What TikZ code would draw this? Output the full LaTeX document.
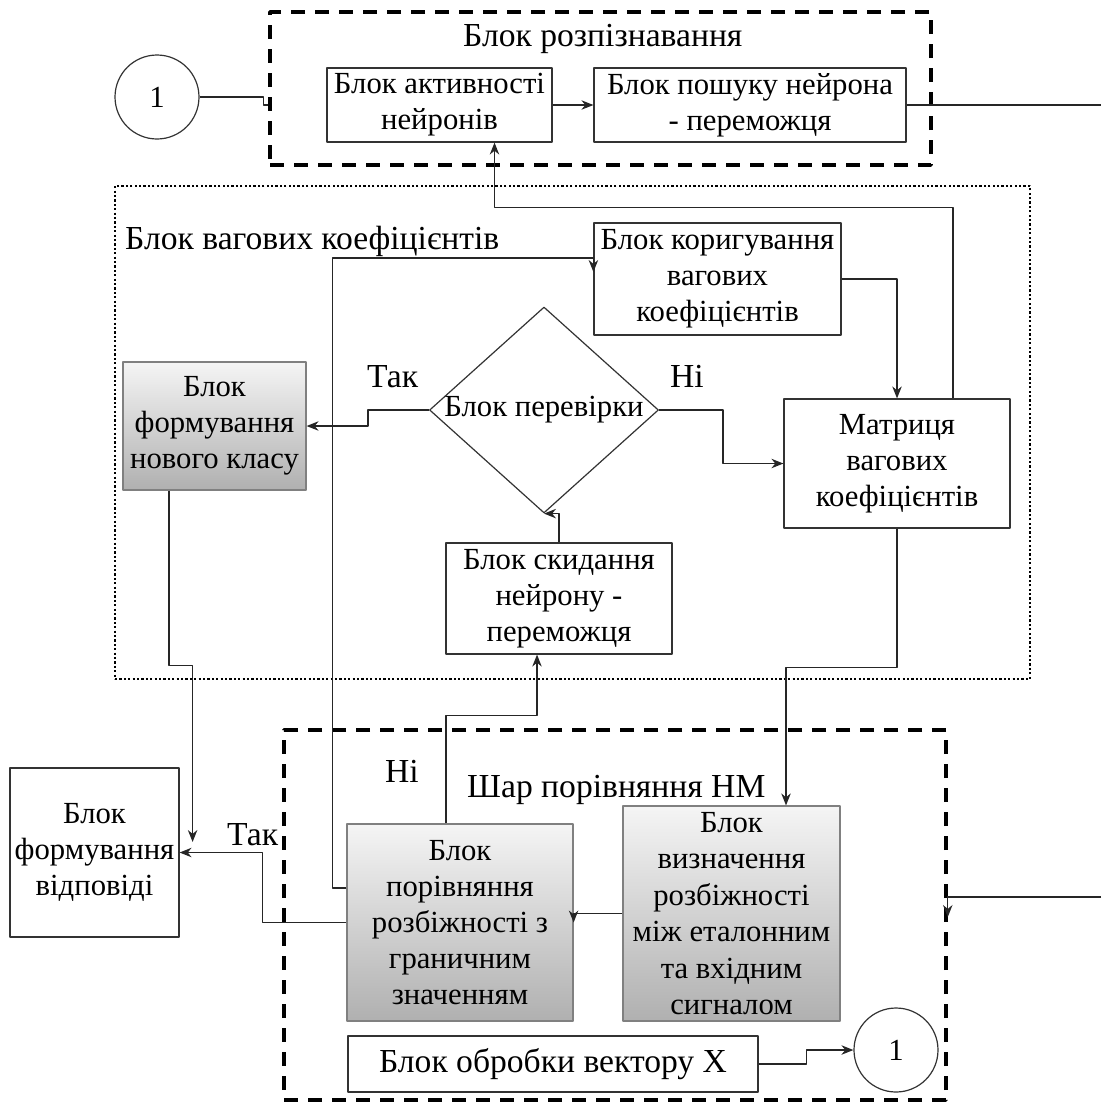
\documentclass[tikz,border=0pt]{standalone}
\usepackage{fontspec}
\setmainfont{Liberation Serif}
\usetikzlibrary{arrows.meta,shapes.geometric}
\begin{document}
\begin{tikzpicture}[x=1pt, y=-1pt, font=\fontsize{30.7}{36}\selectfont, line join=round, >={Stealth[length=12pt,width=9.5pt]},
	box/.style={draw=black!80, line width=1.2pt, align=center, inner sep=0pt, fill=white},
	gbox/.style={box, draw=gray, top color=gray!8, bottom color=gray!62},
	grpdash/.style={draw, line width=3.5pt, dash pattern=on 14pt off 10pt, inner sep=0pt},
	grpdot/.style={draw, line width=2.2pt, dash pattern=on 2.2pt off 2.2pt, inner sep=0pt},
	ttl/.style={anchor=base west, inner sep=0pt, font=\fontsize{33.6}{40}\selectfont},
	conn/.style={line width=1.25pt, draw=black!85}]
		\useasboundingbox (0,0) rectangle (1101,1109);
		% groups
		\node[grpdash, minimum width=661, minimum height=153] (rec) at (600.5,88.5) {};
		\node[grpdot, minimum width=915, minimum height=493] (wgt) at (572.5,432.5) {};
		\node[grpdash, minimum width=662, minimum height=370] (cmpl) at (615,915) {};
		\node[ttl] (rectl) at (463,46) {Блок розпізнавання};
		\node[ttl] (wgttl) at (125,249) {Блок вагових коефіцієнтів};
		\node[ttl] (cmpltl) at (467,797) {Шар порівняння НМ};
		
		% blocks
		\node[box, circle, minimum size=84] (c1) at (157,97) {1};
		\node[box, minimum width=225, minimum height=74] (act) at (439.5,105) {Блок активності\\нейронів};
		\node[box, minimum width=312, minimum height=74] (search) at (750,105) {Блок пошуку нейрона\\- переможця};
		\node[box, minimum width=247, minimum height=112] (corr) at (717.5,279) {Блок коригування\\вагових\\коефіцієнтів};
		\node[box, diamond, minimum width=229, minimum height=206] (chk) at (544,410) {};
		\node[inner sep=0pt] (chktxt) at (chk) {Блок перевірки};
		\node[box, minimum width=226, minimum height=129] (mat) at (897,463.5) {Матриця\\вагових\\коефіцієнтів};
		\node[gbox, minimum width=183, minimum height=128] (newcls) at (214.5,426) {Блок\\формування\\нового класу};
		\node[box, minimum width=226, minimum height=111] (reset) at (559,598.5) {Блок скидання\\нейрону -\\переможця};
		\node[box, minimum width=169, minimum height=169] (resp) at (94.5,852.5) {Блок\\формування\\відповіді};
		\node[gbox, minimum width=226, minimum height=197] (comp) at (460,922.5) {Блок\\порівняння\\розбіжності з\\граничним\\значенням};
		\node[gbox, minimum width=217, minimum height=215, font=\fontsize{30.7}{36.5}\selectfont] (det) at (731.5,913.5) {Блок\\визначення\\розбіжності\\між еталонним\\та вхідним\\сигналом};
		\node[box, minimum width=410, minimum height=56, font=\fontsize{33.6}{40}\selectfont] (xbox) at (553,1064) {Блок обробки вектору X};
		\node[box, circle, minimum size=84] (c2) at (896,1050) {1};
		
		% labels
		\node[ttl] (yes1) at (367,387) {Так};
		\node[ttl] (no1) at (670,387) {Ні};
		\node[ttl] (no2) at (385,782) {Ні};
		\node[ttl] (yes2) at (227,845) {Так};
		
		% connectors
		\coordinate (outR1) at (1101,105);
		\coordinate (outR2) at (1101,897);
		\draw[conn] (c1.east) -- ++(64,0) -- ++(0,8) -- (rec.west |- act.west);
		\draw[conn,->] (act) -- (search);
		\draw[conn] (search.east) -- (outR1);
		\draw[conn,->] ([xshift=56pt]mat.north) -- ++(0,-191) -| ([xshift=55pt]act.south);
		\draw[conn,->] (corr.east) -| (mat.north);
		\draw[conn,->] (chk.west) -- ++(-61,0) |- (newcls.east);
		\draw[conn,->] (chk.east) -- ++(64,0) |- (mat.west);
		\draw[conn,->] (reset.north) |- (chk.south);
		\draw[conn,->] ([xshift=-14pt]comp.north) -- ++(0,-108) -| ([xshift=-22pt]reset.south);
		\draw[conn,->] ([yshift=34.5pt]comp.west) -- ++(-14,0) |- ([yshift=21pt]corr.west) -- ++(0,14);
		\draw[conn,->] (comp.west) -- ++(-84,0) |- (resp.east);
		\draw[conn,->] ([xshift=-45.5pt]newcls.south) -- ++(0,175) -| ([xshift=13pt,yshift=10.5pt]resp.east);
		\draw[conn,->] (mat.south) -- ++(0,139) -| ([xshift=54.5pt]det.north);
		\draw[conn,->] (det.west) -- (det.west -| comp.east) -- ++(0,9);
		\draw[conn,->] (outR2) -| ([yshift=-2pt]cmpl.east);
		\draw[conn,->] (xbox.east) -- ++(48,0) |- (c2.west);
		
	\end{tikzpicture}
\end{document}
